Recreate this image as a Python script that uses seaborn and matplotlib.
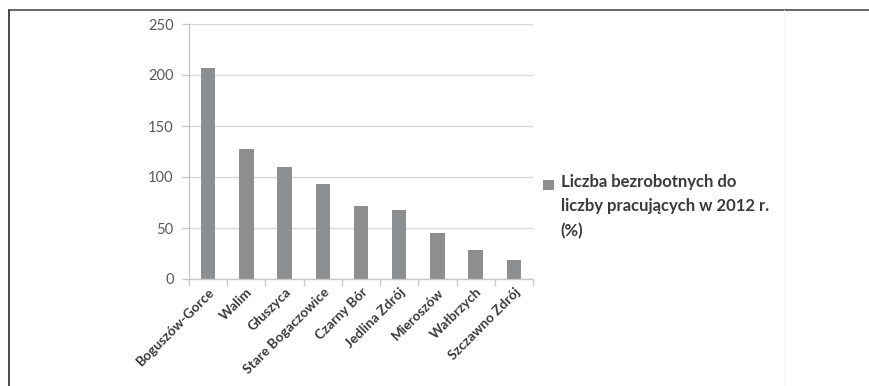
import matplotlib
matplotlib.use("Agg")
import matplotlib.pyplot as plt
from matplotlib.lines import Line2D
from matplotlib.patches import Patch, Rectangle
from matplotlib.legend_handler import HandlerPatch
from matplotlib.ticker import FixedLocator
import numpy as np
import pandas as pd
import seaborn as sns

# Gminy and their unemployed-to-employed ratio in 2012 (%)
gminy = [
    "Boguszów-Gorce", "Walim", "Głuszyca", "Stare Bogaczowice", "Czarny Bór",
    "Jedlina Zdrój", "Mieroszów", "Wałbrzych", "Szczawno Zdrój",
]
wskaznik = [207, 127, 109.5, 93, 72, 68, 45.5, 28, 18.5]
y_ticks = [0, 50, 100, 150, 200, 250]
legend_label = "Liczba bezrobotnych do\nliczby pracujących w 2012 r.\n(%)"

sns.set_theme(style="white")
plt.rcParams["font.family"] = ["Lato", "DejaVu Sans"]

BAR = "#8d8e90"
GRID = "#d9d9d9"
TEXT = "#3a3a3a"
TICKTXT = "#595959"

LEG_SIZE = 12
LEG_PITCH_PT = 23 * 72 / 100  # distance between label lines, in points


class TopAlignedSquare(HandlerPatch):
    """Legend square placed level with the first line of a multi-line label."""

    def __init__(self, n_lines, pitch, **kw):
        super().__init__(**kw)
        self.shift = (n_lines - 1) / 2 * pitch

    def create_artists(self, legend, orig_handle, xdescent, ydescent,
                       width, height, fontsize, trans):
        p = Rectangle((-xdescent, -ydescent + self.shift), width, height,
                      facecolor=orig_handle.get_facecolor(), edgecolor="none",
                      transform=trans)
        return [p]


df = pd.DataFrame({"gmina": gminy, "wskaznik": wskaznik})

fig = plt.figure(figsize=(8.7, 3.86), dpi=100)
ax = fig.add_axes([189 / 870, 1 - 279 / 386, (533 - 189) / 870, (279 - 24) / 386])

sns.barplot(data=df, x="gmina", y="wskaznik", color=BAR, saturation=1,
            width=0.38, ax=ax, edgecolor="none")

ax.set_xlim(-0.5, len(gminy) - 0.5)
ax.set_ylim(0, 250)
ax.set_yticks(y_ticks)
ax.set_yticklabels([str(v) for v in y_ticks], fontsize=10.5, color=TICKTXT)
ax.yaxis.grid(True, color=GRID, linewidth=1)
ax.set_axisbelow(True)
ax.set_xlabel("")
ax.set_ylabel("")

for side in ("top", "right"):
    ax.spines[side].set_visible(False)
for side in ("left", "bottom"):
    ax.spines[side].set_color("#c8c8c8")
    ax.spines[side].set_linewidth(1)

# category labels at bar centres, tick marks at category boundaries
ax.set_xticks(range(len(gminy)))
ax.set_xticklabels(gminy, rotation=45, ha="right", rotation_mode="anchor",
                   fontsize=9.8, fontweight="bold", color=TEXT)
ax.tick_params(axis="x", which="major", length=0, pad=5)
ax.xaxis.set_minor_locator(FixedLocator(np.arange(-0.5, len(gminy), 1.0)))
ax.tick_params(axis="x", which="minor", length=5, color="#c8c8c8", width=1,
               direction="out", bottom=True)
ax.tick_params(axis="y", length=5, color="#c8c8c8", width=1, direction="out",
               left=True, pad=6)

handle = Patch(facecolor=BAR, edgecolor="none")
n_lines = legend_label.count("\n") + 1
leg = fig.legend([handle], [legend_label], loc="upper left",
                 bbox_to_anchor=(543 / 870, 1 - 174 / 386), frameon=False,
                 handlelength=0.7, handleheight=0.7, handletextpad=0.45,
                 borderpad=0, borderaxespad=0, labelspacing=0,
                 handler_map={Patch: TopAlignedSquare(n_lines, LEG_PITCH_PT)})
for t in leg.get_texts():
    t.set_fontsize(LEG_SIZE)
    t.set_fontweight("bold")
    t.set_color(TEXT)
    t.set_linespacing(1.65)

# outer frame
fig.add_artist(Line2D([9 / 870, 1], [1 - 9.5 / 386, 1 - 9.5 / 386],
                      transform=fig.transFigure, color="#5a5a5a", linewidth=1.3))
fig.add_artist(Line2D([9.5 / 870, 9.5 / 870], [0, 1 - 9.5 / 386],
                      transform=fig.transFigure, color="#3a3a3a", linewidth=1.3))
fig.add_artist(Line2D([784 / 870, 784 / 870], [0, 1 - 10 / 386],
                      transform=fig.transFigure, color="#f5f5f5", linewidth=0.8))

fig.savefig("out.png", dpi=100, facecolor="white")
